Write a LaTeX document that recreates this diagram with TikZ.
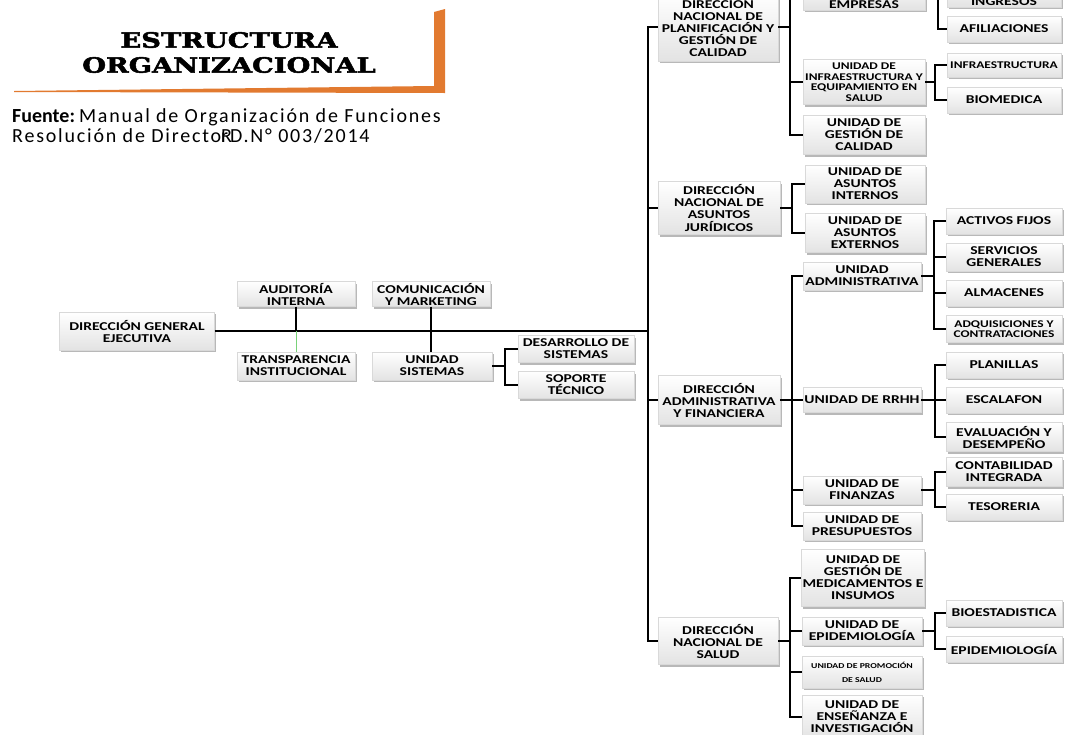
\documentclass[tikz,border=0pt]{standalone}
\usepackage{fontspec}
\setmainfont{Carlito}[FakeStretch=1.3]
\newfontfamily\plainfont{Carlito}
\newfontfamily\srcfont{Carlito}[LetterSpace=9]
\newfontfamily\titlefont{DejaVu Serif}[FakeStretch=1.3, FakeBold=2.5]
\usepackage{tikz}
\usetikzlibrary{shadows, positioning}

\definecolor{naranja}{RGB}{226,122,48}
\newcommand\cajafont{\bfseries\fontsize{12}{12}\selectfont}
\newcommand\cajachica{\bfseries\fontsize{10.3}{10.5}\selectfont}

\tikzset{
  caja/.style={rectangle, top color=white, bottom color=gray!22, draw=gray!30, line width=0.4pt,
    drop shadow={shadow xshift=1.5pt, shadow yshift=-2pt, fill=black!55, opacity=0.5},
    align=center, inner sep=1pt, font=\cajafont},
  dir/.style={caja, minimum width=120pt},
  uni/.style={caja, minimum width=120pt},
  sub/.style={caja, minimum width=116pt},
  enlace/.style={line width=1.6pt, black},
  verde/.style={line width=0.8pt, green!50!gray!70}
}

\begin{document}
\begin{tikzpicture}[x=1pt, y=-1pt]
  \fill[white] (0,0) rectangle (1065,734);
  \useasboundingbox (0,0) rectangle (1065,734);
  \begin{scope}[overlay]
  \clip (0,0) rectangle (1065,734);

  % Titulo
  \fill[naranja] (14,91) -- (434,86) -- (434,12) -- (445,9) -- (445,93) -- (14,92) -- cycle;
  \node (tit1) at (229,40) {\titlefont\bfseries\fontsize{21}{24}\selectfont ESTRUCTURA};
  \node (tit2) at (229,65) {\titlefont\bfseries\fontsize{21}{24}\selectfont ORGANIZACIONAL};
  \node[anchor=base west, inner sep=0pt] (fue1) at (12,122)
    {\plainfont\fontsize{20}{22}\selectfont\textbf{Fuente:}\kern0.2em\srcfont Manual de Organización de Funciones};
  \node[anchor=base west, inner sep=0pt] (fue2) at (12,142)
    {\srcfont\fontsize{20}{22}\selectfont Resolución de Directo\rlap{r}R\kern-0.1em D.N° 003/2014};

  % Direccion general y staff
  \node[caja, minimum width=155pt, minimum height=38pt] (dge) at (137,331) {DIRECCIÓN GENERAL\\EJECUTIVA};
  \node[caja, minimum width=118pt, minimum height=25pt] (aud) at (296,294) {AUDITORÍA\\INTERNA};
  \node[caja, minimum width=118pt, minimum height=25pt] (com) at (431,294) {COMUNICACIÓN\\Y MARKETING};
  \node[caja, minimum width=118pt, minimum height=28pt] (tra) at (296,366) {TRANSPARENCIA\\INSTITUCIONAL};
  \node[caja, minimum width=120pt, minimum height=28pt] (usi) at (432,366) {UNIDAD\\SISTEMAS};
  \node[sub, minimum height=27pt] (dsi) at (576,349) {DESARROLLO DE\\SISTEMAS};
  \node[sub, minimum height=27pt] (sop) at (576,385) {SOPORTE\\TÉCNICO};
  \coordinate (trunk) at (648,331);

  % Direcciones
  \node[dir, minimum height=68pt] (plan) at (718,27) {DIRECCIÓN\\NACIONAL DE\\PLANIFICACIÓN Y\\GESTIÓN DE\\CALIDAD};
  \node[dir, minimum width=122pt, minimum height=53pt] (jur) at (719,208) {DIRECCIÓN\\NACIONAL DE\\ASUNTOS\\JURÍDICOS};
  \node[dir, minimum width=122pt, minimum height=49pt] (adm) at (719,400) {DIRECCIÓN\\ADMINISTRATIVA\\Y FINANCIERA};
  \node[dir, minimum height=47pt] (sal) at (718,641) {DIRECCIÓN\\NACIONAL DE\\SALUD};

  % Planificacion
  \node[uni, minimum width=122pt, text height=30pt, anchor=south] (emp) at (864,10) {EMPRESAS};
  \node[caja, minimum width=122pt, minimum height=45pt, font=\cajachica] (inf) at (864,82) {UNIDAD DE\\INFRAESTRUCTURA Y\\EQUIPAMIENTO EN\\SALUD};
  \node[uni, minimum width=122pt, minimum height=39pt] (gca) at (864,135) {UNIDAD DE\\GESTIÓN DE\\CALIDAD};
  \node[caja, minimum width=114pt, text height=30pt, anchor=south] (ing) at (1004,7) {INGRESOS};
  \node[caja, minimum width=114pt, minimum height=26pt] (afi) at (1004,29) {AFILIACIONES};
  \node[caja, minimum width=114pt, minimum height=24pt, font=\cajachica] (infra) at (1004,65) {INFRAESTRUCTURA};
  \node[caja, minimum width=114pt, minimum height=26pt] (bio) at (1004,100) {BIOMEDICA};

  % Juridicos
  \node[uni, minimum height=38pt] (ain) at (865,184) {UNIDAD DE\\ASUNTOS\\INTERNOS};
  \node[uni, minimum height=39pt] (aex) at (865,233) {UNIDAD DE\\ASUNTOS\\EXTERNOS};

  % Administrativa y financiera
  \node[uni, minimum width=118pt, minimum height=28pt] (uad) at (862,276) {UNIDAD\\ADMINISTRATIVA};
  \node[uni, minimum width=118pt, minimum height=25pt] (rrh) at (862,400) {UNIDAD DE RRHH};
  \node[uni, minimum width=118pt, minimum height=28pt] (fin) at (862,490) {UNIDAD DE\\FINANZAS};
  \node[uni, minimum width=118pt, minimum height=28pt] (pre) at (862,526) {UNIDAD DE\\PRESUPUESTOS};
  \node[sub, minimum height=26pt] (act) at (1004,221) {ACTIVOS FIJOS};
  \node[sub, minimum height=28pt] (ser) at (1004,257) {SERVICIOS\\GENERALES};
  \node[sub, minimum height=26pt] (alm) at (1004,293) {ALMACENES};
  \node[sub, minimum height=27pt, font=\cajachica] (adq) at (1004,329) {ADQUISICIONES Y\\CONTRATACIONES};
  \node[sub, minimum height=26pt] (pla) at (1004,365) {PLANILLAS};
  \node[sub, minimum height=26pt] (esc) at (1004,400) {ESCALAFON};
  \node[sub, minimum height=29pt] (eva) at (1004,437) {EVALUACIÓN Y\\DESEMPEÑO};
  \node[sub, minimum height=29pt] (con) at (1004,472) {CONTABILIDAD\\INTEGRADA};
  \node[sub, minimum height=26pt] (tes) at (1004,507) {TESORERIA};

  % Salud
  \node[uni, minimum width=122pt, minimum height=57pt] (gme) at (863,578) {UNIDAD DE\\GESTIÓN DE\\MEDICAMENTOS E\\INSUMOS};
  \node[uni, minimum height=28pt] (epi) at (862,631) {UNIDAD DE\\EPIDEMIOLOGÍA};
  \node[uni, minimum height=32pt, font=\bfseries\fontsize{7.5}{14}\selectfont] (pro) at (862,672) {UNIDAD DE PROMOCIÓN\\DE SALUD};
  \node[uni, minimum height=44pt] (ens) at (862,717) {UNIDAD DE\\ENSEÑANZA E\\INVESTIGACIÓN};
  \node[sub, minimum height=26pt] (bie) at (1004,613) {BIOESTADISTICA};
  \node[sub, minimum height=26pt] (epg) at (1004,649) {EPIDEMIOLOGÍA};

  % Conectores
  \draw[enlace] (dge.east) -- (trunk);
  \draw[enlace] (aud.south) -- (aud.south |- trunk);
  \draw[verde] (aud.south |- trunk) -- (tra.north);
  \draw[enlace] (com.south) -- (com.south |- usi.north);
  \draw[enlace] (usi.east) -- ++(13,0) coordinate (us) |- (dsi.west) (us) |- (sop.west);

  \draw[enlace] (plan.west) -| (trunk) |- (sal.west);
  \draw[enlace] (jur.west) -- (jur.west -| trunk);
  \draw[enlace] (adm.west) -- (adm.west -| trunk);

  \draw[enlace] (plan.east) -- ++(12,0) coordinate (pl);
  \draw[enlace] (emp.west) -| (pl) |- (gca.west) (pl) |- (inf.west);
  \draw[enlace] (emp.east) -- ++(13,0) coordinate (em) |- (ing.west) (em) |- (afi.west);
  \draw[enlace] (inf.east) -- ++(10,0) coordinate (in) |- (infra.west) (in) |- (bio.west);

  \draw[enlace] (jur.east) -- ++(12,0) coordinate (ju) |- (ain.west) (ju) |- (aex.west);

  \draw[enlace] (adm.east) -- ++(12,0) coordinate (ad) -- (rrh.west);
  \draw[enlace] (uad.west) -| (ad) |- (pre.west) (ad) |- (fin.west);
  \draw[enlace] (uad.east) -- ++(13,0) coordinate (ua) |- (act.west) (ua) |- (ser.west) (ua) |- (alm.west) (ua) |- (adq.west);
  \draw[enlace] (rrh.east) -- ++(14,0) coordinate (rh) |- (pla.west) (rh) |- (esc.west) (rh) |- (eva.west);
  \draw[enlace] (fin.east) -- ++(14,0) coordinate (fi) |- (con.west) (fi) |- (tes.west);

  \draw[enlace] (sal.east) -- ++(12,0) coordinate (sa) |- (gme.west) (sa) |- (epi.west) (sa) |- (pro.west) (sa) |- (ens.west);
  \draw[enlace] (epi.east) -- ++(13,0) coordinate (ep) |- (bie.west) (ep) |- (epg.west);
  \end{scope}
\end{tikzpicture}
\end{document}
